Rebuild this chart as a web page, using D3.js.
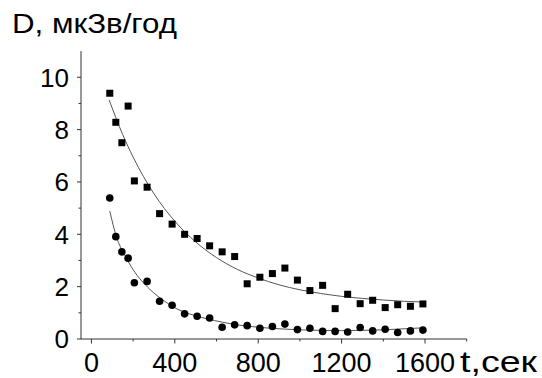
<!DOCTYPE html>
<html>
<head>
<meta charset="utf-8">
<script src="https://cdn.jsdelivr.net/npm/d3@7/dist/d3.min.js"></script>
<style>
  html, body { margin: 0; padding: 0; background: #fff; }
  svg { display: block; font-family: "Liberation Sans", Arial, sans-serif; }
</style>
</head>
<body>
<svg id="chart" width="542" height="378"></svg>
<script>
// ---- data ----
const timeSec = [88,117,146,176,206,267,327,387,447,507,567,627,687,747,808,868,928,988,1048,1109,1169,1229,1289,1349,1409,1469,1530,1590];
const squareDose = [9.39,8.28,7.50,8.90,6.04,5.80,4.79,4.39,4.00,3.84,3.56,3.33,3.15,2.11,2.36,2.50,2.71,2.25,1.85,2.05,1.16,1.71,1.35,1.48,1.20,1.31,1.25,1.34];
const circleDose = [5.39,3.91,3.33,3.09,2.15,2.20,1.44,1.29,0.96,0.87,0.80,0.45,0.54,0.51,0.41,0.48,0.57,0.36,0.41,0.29,0.29,0.27,0.44,0.31,0.37,0.25,0.31,0.34];

// fitted curves
const upperFitT = [85,150,200,300,400,500,600,700,800,900,1000,1100,1200,1300,1400,1500,1600];
const upperFitD = [9.13,7.81,6.95,5.55,4.50,3.71,3.11,2.66,2.33,2.07,1.88,1.74,1.63,1.55,1.49,1.44,1.41];
const lowerFitT = [88,120,160,200,280,350,410,470,550,630,700,800,900,1000,1100,1200,1300,1400,1500,1600];
const lowerFitD = [4.89,3.90,3.20,2.65,1.90,1.45,1.15,0.96,0.78,0.64,0.54,0.45,0.39,0.35,0.33,0.32,0.33,0.35,0.39,0.43];

const xMajorTicks = [0,400,800,1200,1600];
const xMinorTicks = [200,600,1000,1400,1800];
const yMajorTicks = [0,2,4,6,8,10];
const yMinorTicks = [1,3,5,7,9];

const titleText = "D, мкЗв/год";
const xLabelText = "t,сек";

// ---- drawing ----
const svg = d3.select("#chart");
const x = d3.scaleLinear().domain([-50, 1800]).range([81, 466.7]);
const y = d3.scaleLinear().domain([0, 11]).range([339, 51.1]);
const axisColor = "#333";

// y axis
const yAxis = svg.append("g");
yAxis.append("line").attr("x1", x(-50)).attr("x2", x(-50)).attr("y1", y(0)).attr("y2", y(11))
  .attr("stroke", axisColor).attr("stroke-width", 1);
yAxis.selectAll(".ymaj").data(yMajorTicks).join("line")
  .attr("x1", x(-50) - 4).attr("x2", x(-50)).attr("y1", d => y(d)).attr("y2", d => y(d))
  .attr("stroke", axisColor);
yAxis.selectAll(".ymin").data(yMinorTicks).join("line")
  .attr("x1", x(-50) - 2.5).attr("x2", x(-50)).attr("y1", d => y(d)).attr("y2", d => y(d))
  .attr("stroke", axisColor);
yAxis.selectAll("text").data(yMajorTicks).join("text")
  .attr("x", 69).attr("y", d => y(d) + 9.3)
  .attr("text-anchor", "end").attr("font-size", 26).attr("fill", "#000")
  .text(d => d);

// x axis
const xAxis = svg.append("g");
xAxis.append("line").attr("x1", x(-50)).attr("x2", x(1800)).attr("y1", y(0)).attr("y2", y(0))
  .attr("stroke", axisColor).attr("stroke-width", 1);
xAxis.selectAll(".xmaj").data(xMajorTicks).join("line")
  .attr("x1", d => x(d)).attr("x2", d => x(d)).attr("y1", y(0)).attr("y2", y(0) + 4.5)
  .attr("stroke", axisColor);
xAxis.selectAll(".xmin").data(xMinorTicks).join("line")
  .attr("x1", d => x(d)).attr("x2", d => x(d)).attr("y1", y(0)).attr("y2", y(0) + 2.5)
  .attr("stroke", axisColor);
xAxis.selectAll("text").data(xMajorTicks).join("text")
  .attr("x", d => x(d)).attr("y", 372)
  .attr("text-anchor", "middle").attr("font-size", 27).attr("fill", "#000")
  .text(d => d);

svg.append("text").attr("x", 460).attr("y", 372).attr("font-size", 29).attr("fill", "#000")
  .attr("textLength", 77).attr("lengthAdjust", "spacingAndGlyphs").text(xLabelText);
svg.append("text").attr("x", 12).attr("y", 33).attr("font-size", 28).attr("fill", "#000")
  .attr("textLength", 165).attr("lengthAdjust", "spacingAndGlyphs").text(titleText);

// fit curves
const line = d3.line().x(d => x(d[0])).y(d => y(d[1])).curve(d3.curveMonotoneX);
svg.append("path").datum(d3.zip(upperFitT, upperFitD)).attr("d", line)
  .attr("fill", "none").attr("stroke", "#555").attr("stroke-width", 1);
svg.append("path").datum(d3.zip(lowerFitT, lowerFitD)).attr("d", line)
  .attr("fill", "none").attr("stroke", "#555").attr("stroke-width", 1);

// markers
const sq = 7;
svg.append("g").selectAll("rect").data(d3.zip(timeSec, squareDose)).join("rect")
  .attr("x", d => x(d[0]) - sq / 2).attr("y", d => y(d[1]) - sq / 2)
  .attr("width", sq).attr("height", sq).attr("fill", "#000");
svg.append("g").selectAll("circle").data(d3.zip(timeSec, circleDose)).join("circle")
  .attr("cx", d => x(d[0])).attr("cy", d => y(d[1])).attr("r", 3.8).attr("fill", "#000");
</script>
</body>
</html>
